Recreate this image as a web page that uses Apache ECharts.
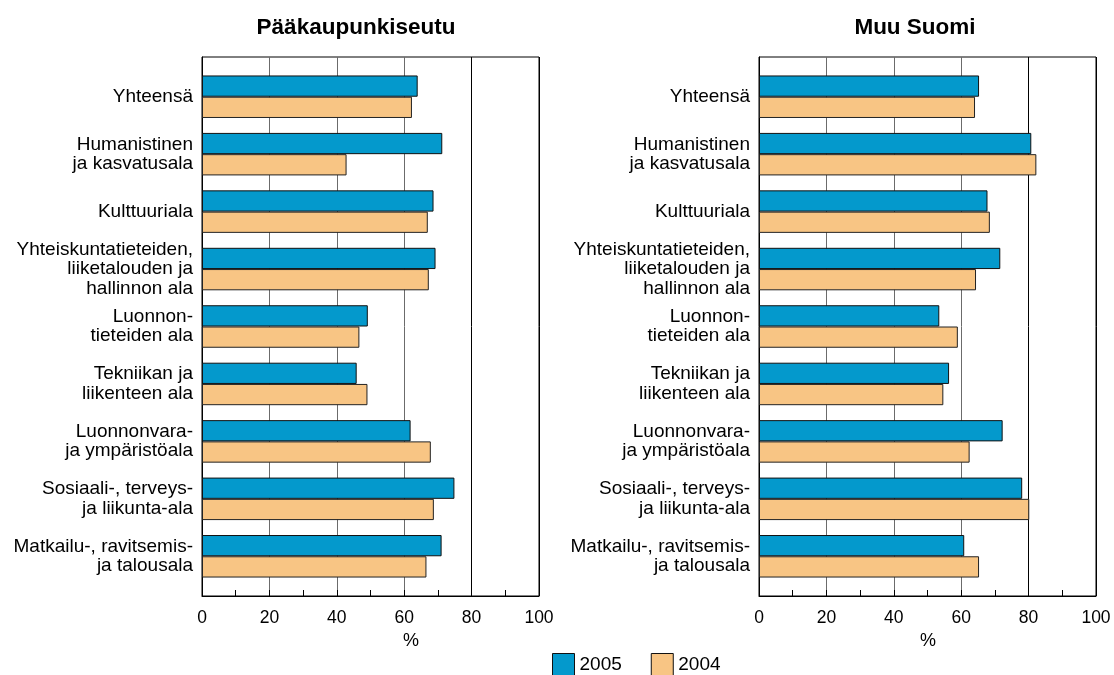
<!DOCTYPE html>
<html><head><meta charset="utf-8">
<script src="https://cdn.jsdelivr.net/npm/echarts@6/dist/echarts.min.js"></script>
<style>html,body{margin:0;padding:0;background:#fff}#c{width:1114px;height:675px}</style>
</head><body><div id="c"></div>
<script>
const categories = ["Yhteensä", "Humanistinen\nja kasvatusala", "Kulttuuriala",
  "Yhteiskuntatieteiden,\nliiketalouden ja\nhallinnon ala", "Luonnon-\ntieteiden ala",
  "Tekniikan ja\nliikenteen ala", "Luonnonvara-\nja ympäristöala",
  "Sosiaali-, terveys-\nja liikunta-ala", "Matkailu-, ravitsemis-\nja talousala"];
const panelTitles = ["Pääkaupunkiseutu", "Muu Suomi"];
const seriesNames = ["2005", "2004"];
const capital2005 = [64.0, 71.3, 68.7, 69.3, 49.2, 45.9, 61.9, 74.9, 71.1];
const capital2004 = [62.3, 42.9, 67.0, 67.3, 46.7, 49.1, 67.9, 68.8, 66.6];
const rest2005 = [65.3, 80.8, 67.8, 71.6, 53.5, 56.4, 72.3, 78.1, 60.9];
const rest2004 = [64.1, 82.3, 68.5, 64.4, 59.0, 54.7, 62.5, 80.2, 65.3];
const xTicks = [0, 20, 40, 60, 80, 100];
const axisUnit = "%";

const FONT = "Liberation Sans, Arial, sans-serif";
const BLUE = "#0499cc", ORANGE = "#f8c584";
const panels = [
  { left: 202, title: panelTitles[0], s05: capital2005, s04: capital2004, pctX: 411, titleX: 356 },
  { left: 759, title: panelTitles[1], s05: rest2005, s04: rest2004, pctX: 928, titleX: 915 }
];
const W = 337;
const grid = [], xAxis = [], yAxis = [], series = [], title = [], graphic = [];
panels.forEach((p, i) => {
  const outer = grid.length;
  grid.push({ left: p.left, width: W, top: 57, height: 539, show: true, borderColor: "#000", borderWidth: 1, backgroundColor: "transparent" });
  xAxis.push({ type: "value", gridIndex: outer, min: xTicks[0], max: xTicks[xTicks.length - 1], interval: 20,
    axisLine: { show: true, lineStyle: { color: "#000", width: 1 } },
    axisTick: { show: true, inside: true, length: 6, lineStyle: { color: "#000" } },
    minorTick: { show: true, splitNumber: 2, length: 6, lineStyle: { color: "#000", width: 1 } },
    axisLabel: { color: "#000", fontSize: 17.5, fontFamily: FONT, margin: 13,
      formatter: v => xTicks.includes(v) ? String(v) : "" },
    splitLine: { show: true, lineStyle: { color: ["#000", "#6b6b6b", "#6b6b6b", "#6b6b6b", "#000", "#000"], width: 1 } }
  });
  yAxis.push({ type: "value", gridIndex: outer, min: 0, max: 1, axisLine: { show: true, lineStyle: { color: "#000" } },
    axisTick: { show: false }, axisLabel: { show: false }, splitLine: { show: false } });
  const inner = grid.length;
  grid.push({ left: p.left, width: W, top: 68, height: 517 });
  xAxis.push({ type: "value", gridIndex: inner, min: 0, max: 100, show: false });
  yAxis.push({ type: "category", gridIndex: inner, data: categories, inverse: true,
    axisLine: { show: false }, axisTick: { show: false }, splitLine: { show: false },
    axisLabel: { color: "#000", fontSize: 19, fontFamily: FONT, margin: 9, lineHeight: 19.5, align: "right" } });
  series.push({ type: "bar", name: seriesNames[0], xAxisIndex: inner, yAxisIndex: inner, data: p.s05,
    barGap: "0%", barCategoryGap: "26%", itemStyle: { color: BLUE, borderColor: "#111", borderWidth: 1 }, z: 3 });
  series.push({ type: "bar", name: seriesNames[1], xAxisIndex: inner, yAxisIndex: inner, data: p.s04,
    barGap: "0%", barCategoryGap: "26%", itemStyle: { color: ORANGE, borderColor: "#222", borderWidth: 1 }, z: 3 });
  title.push({ text: p.title, left: p.titleX, top: 16, textAlign: "center", padding: 0,
    textStyle: { fontSize: 22.5, fontWeight: "bold", color: "#000", fontFamily: FONT } });
  graphic.push({ type: "text", left: p.pctX - 8, top: 632, style: { text: axisUnit, fontSize: 18, fill: "#000", fontFamily: FONT } });
});

const chart = echarts.init(document.getElementById("c"));
chart.setOption({
  animation: false,
  backgroundColor: "#fff",
  title, grid, xAxis, yAxis, series, graphic,
  legend: { data: seriesNames, left: 552, top: 653, padding: 0, itemWidth: 22, itemHeight: 22, itemGap: 29,
    icon: "rect", textStyle: { fontSize: 19, color: "#000", fontFamily: FONT, padding: [0, 0, 0, 0] },
    itemStyle: { borderColor: "#111", borderWidth: 1 } }
});
</script></body></html>
